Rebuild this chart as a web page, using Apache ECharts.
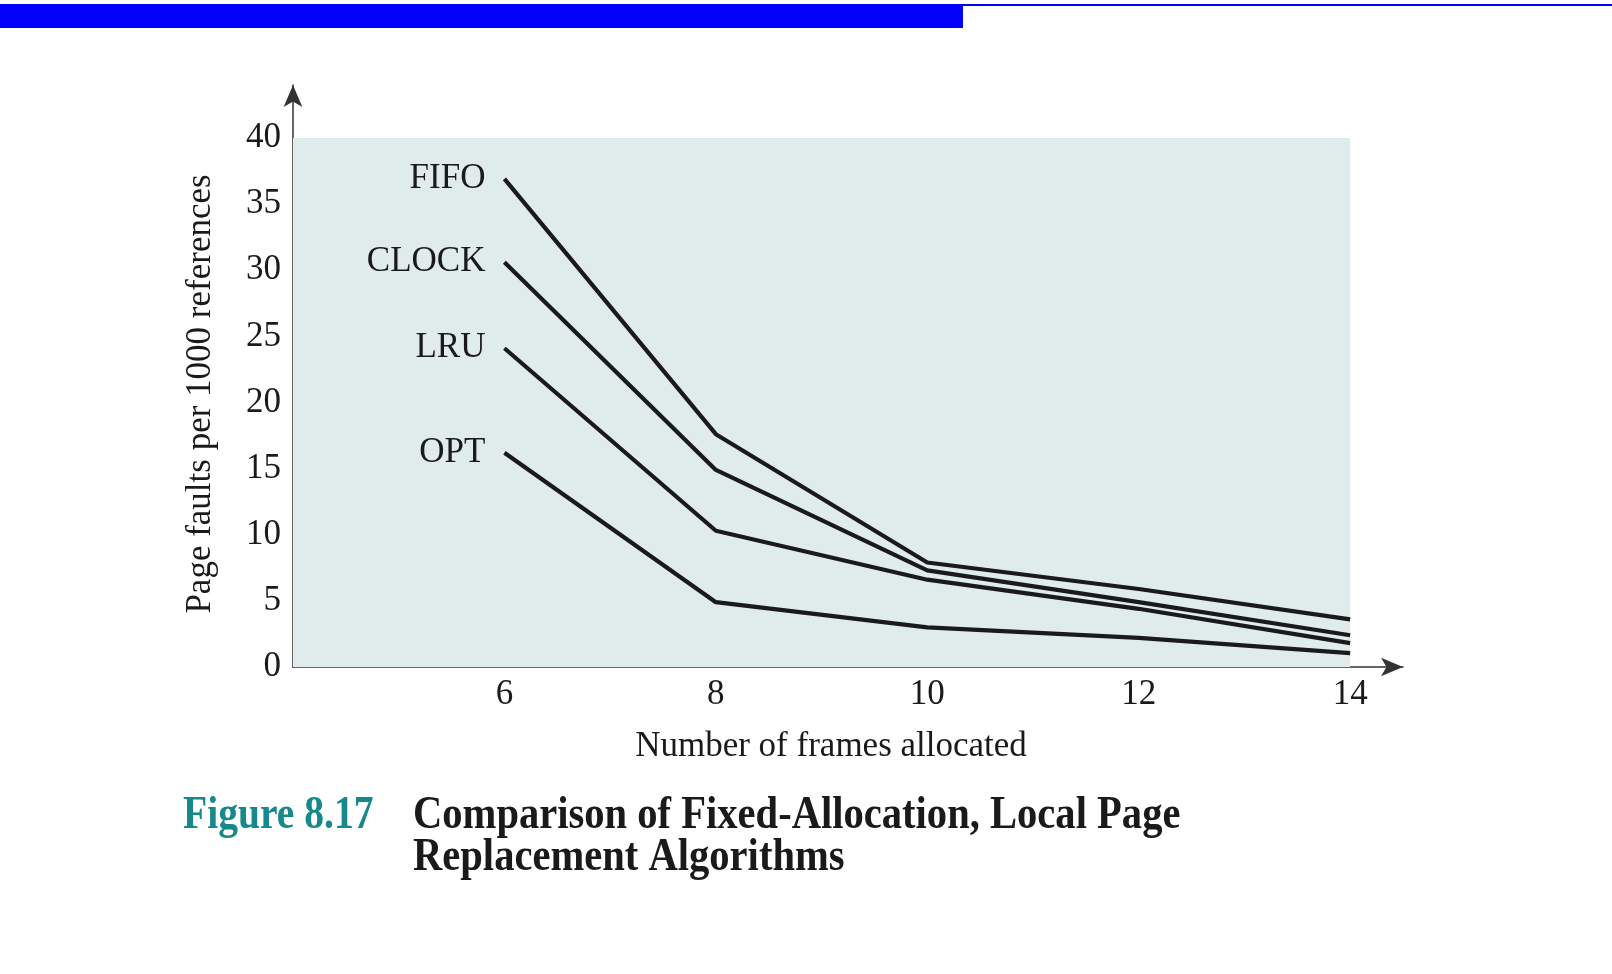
<!DOCTYPE html>
<html>
<head>
<meta charset="utf-8">
<title>Figure 8.17</title>
<script src="https://cdn.jsdelivr.net/npm/echarts@6/dist/echarts.min.js"></script>
<style>
  html, body { margin: 0; padding: 0; background: #fff; }
  #main { width: 1612px; height: 974px; }
</style>
</head>
<body>
<div id="main"></div>
<script>
var frames = [6, 8, 10, 12, 14];
var fifo  = [36.9, 17.6, 7.9, 5.9, 3.6];
var clock = [30.6, 14.9, 7.3, 4.9, 2.4];
var lru   = [24.1, 10.3, 6.6, 4.4, 1.8];
var opt   = [16.2, 4.9, 3.0, 2.2, 1.05];
var seriesNames = ['FIFO', 'CLOCK', 'LRU', 'OPT'];

var serif = '"Liberation Serif", "Times New Roman", serif';
var ink = '#1a1a1a';

function pairs(vals) {
  return frames.map(function (f, i) { return [f, vals[i]]; });
}

function lineSeries(name, vals) {
  return {
    name: name,
    type: 'line',
    data: pairs(vals),
    showSymbol: true,
    symbolSize: 0,
    lineStyle: { color: ink, width: 4.2 },
    itemStyle: { color: ink },
    label: {
      show: true,
      position: 'left',
      distance: 19,
      fontFamily: serif,
      fontSize: 35,
      color: ink,
      formatter: function (p) { return p.dataIndex === 0 ? p.seriesName : ''; }
    },
    z: 3
  };
}

var myChart = echarts.init(document.getElementById('main'));
var series = [fifo, clock, lru, opt].map(function (v, i) {
  return lineSeries(seriesNames[i], v);
});
// shaded plot panel
series[0].markArea = {
  silent: true,
  itemStyle: { color: '#e0ecec' },
  data: [[{ coord: [4, 0] }, { coord: [14, 40] }]]
};

var option = {
  animation: false,
  backgroundColor: '#fff',
  grid: { left: 293, right: 209, top: 85, bottom: 307, containLabel: false },
  xAxis: {
    type: 'value',
    min: 4,
    max: 14.5,
    interval: 2,
    splitLine: { show: false },
    axisTick: { show: false },
    axisLine: {
      lineStyle: { color: '#333', width: 1.5 },
      symbol: ['none', 'arrow'],
      symbolSize: [14, 22]
    },
    axisLabel: {
      margin: 10,
      fontFamily: serif,
      fontSize: 35,
      color: ink,
      formatter: function (v) { return (v === 4 || v > 14) ? '' : v; }
    },
    name: 'Number of frames allocated',
    nameLocation: 'middle',
    nameGap: 62,
    nameTextStyle: { fontFamily: serif, fontSize: 35, color: ink, padding: [0, 34, 0, 0] }
  },
  yAxis: {
    type: 'value',
    min: 0,
    max: 44,
    interval: 5,
    splitLine: { show: false },
    axisTick: { show: false },
    axisLine: {
      lineStyle: { color: '#333', width: 1.5 },
      symbol: ['none', 'arrow'],
      symbolSize: [14, 22]
    },
    axisLabel: {
      margin: 12,
      padding: [6, 0, 0, 0],
      fontFamily: serif,
      fontSize: 35,
      color: ink,
      showMaxLabel: false,
      formatter: function (v) { return v > 40 ? '' : v; }
    },
    name: 'Page faults per 1000 references',
    nameLocation: 'middle',
    nameGap: 75,
    nameTextStyle: { fontFamily: serif, fontSize: 35, color: ink, padding: [0, 36, 0, 0] }
  },
  graphic: [
    { type: 'rect', left: 0, top: 4, shape: { width: 963, height: 24 }, style: { fill: '#0000ff' } },
    { type: 'rect', left: 963, top: 4, shape: { width: 649, height: 2 }, style: { fill: '#0000ff' } },
    {
      type: 'text', x: 183, y: 839, scaleX: 0.86,
      style: { text: 'Figure 8.17', fill: '#17898b', font: 'bold 46px ' + serif, textVerticalAlign: 'bottom' }
    },
    {
      type: 'text', x: 413, y: 839, scaleX: 0.882,
      style: { text: 'Comparison of Fixed-Allocation, Local Page', fill: '#1a1a1a', font: 'bold 46px ' + serif, textVerticalAlign: 'bottom' }
    },
    {
      type: 'text', x: 413, y: 881, scaleX: 0.882,
      style: { text: 'Replacement Algorithms', fill: '#1a1a1a', font: 'bold 46px ' + serif, textVerticalAlign: 'bottom' }
    }
  ],
  series: series
};

myChart.setOption(option);
window.addEventListener('resize', function () { myChart.resize(); });
</script>
</body>
</html>
